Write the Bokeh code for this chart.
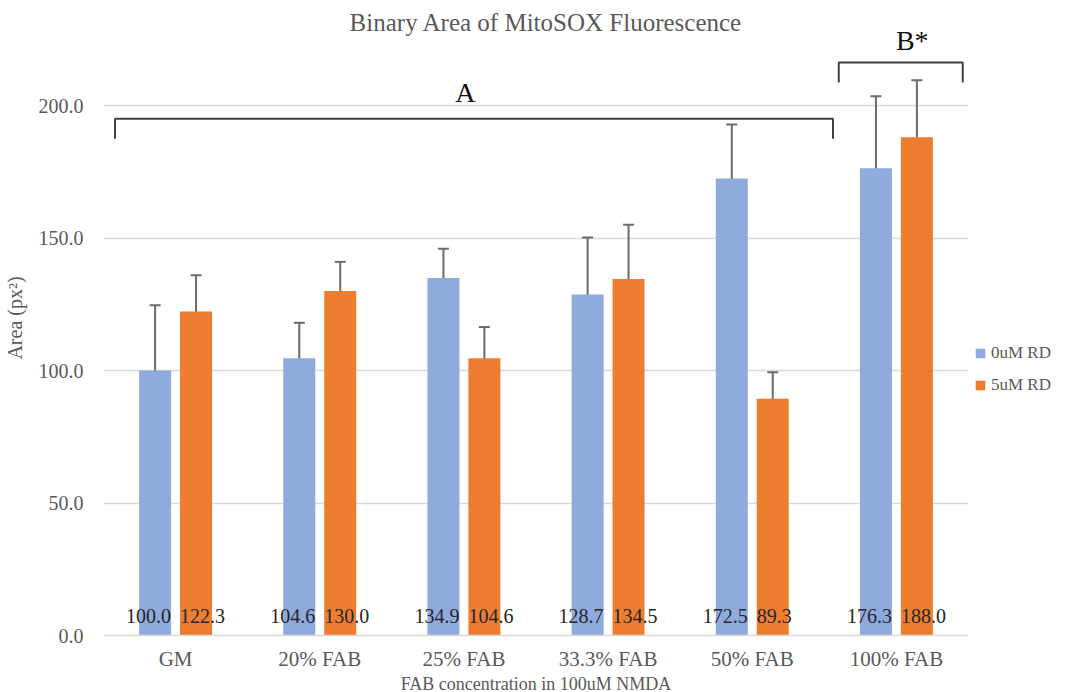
from bokeh.plotting import figure
from bokeh.models import (ColumnDataSource, FactorRange, Whisker, TeeHead, FixedTicker,
                          NumeralTickFormatter, Legend, LegendItem, Label, Range1d)
from bokeh.transform import dodge
from bokeh.core.properties import value
from bokeh.embed import file_html
from bokeh.resources import INLINE

categories = ["GM", "20% FAB", "25% FAB", "33.3% FAB", "50% FAB", "100% FAB"]
series_names = ["0uM RD", "5uM RD"]
vals_0uM = [100.0, 104.6, 134.9, 128.7, 172.5, 176.3]
vals_5uM = [122.3, 130.0, 104.6, 134.5, 89.3, 188.0]
err_0uM = [24.6, 13.4, 11.0, 21.5, 20.3, 27.2]
err_5uM = [13.6, 11.0, 11.8, 20.5, 10.0, 21.5]
y_ticks = [0, 50, 100, 150, 200]

bracket_labels = ["A", "B*"]
bracket_start = [0.08, 5.10]
bracket_end = [5.06, 5.96]
bracket_top = [195.0, 216.2]
bracket_label_x = [2.51, 5.61]
bracket_label_y = [205.0, 224.5]

FONT = "Liberation Serif"
GRAY = "#595959"
BLUE = "#8faadc"
ORANGE = "#ed7d31"

p = figure(frame_width=865, frame_height=635,
           x_range=FactorRange(factors=categories, range_padding=0),
           y_range=Range1d(0, 635 / 2.65), output_backend="svg", toolbar_location=None,
           min_border_left=103, min_border_right=100, min_border_top=0, min_border_bottom=57)
p.outline_line_color = None
p.background_fill_color = "white"

src0 = ColumnDataSource(dict(cat=categories, v=vals_0uM,
                             up=[v + e for v, e in zip(vals_0uM, err_0uM)],
                             lo=[v - e for v, e in zip(vals_0uM, err_0uM)],
                             lab=[f"{v:.1f}" for v in vals_0uM],
                             ly=[7.3] * len(categories)))
src1 = ColumnDataSource(dict(cat=categories, v=vals_5uM,
                             up=[v + e for v, e in zip(vals_5uM, err_5uM)],
                             lo=[v - e for v, e in zip(vals_5uM, err_5uM)],
                             lab=[f"{v:.1f}" for v in vals_5uM],
                             ly=[7.3] * len(categories)))

OFF = 0.142
BW = 0.222
r0 = p.vbar(x=dodge("cat", -OFF, range=p.x_range), top="v", width=BW, source=src0,
            fill_color=BLUE, line_color=None)
r1 = p.vbar(x=dodge("cat", OFF, range=p.x_range), top="v", width=BW, source=src1,
            fill_color=ORANGE, line_color=None)

for src, off in ((src0, -OFF), (src1, OFF)):
    w = Whisker(source=src, base=dodge("cat", off, range=p.x_range), upper="up", lower="lo",
                line_color="#6b6b6b", line_width=2,
                upper_head=TeeHead(size=11, line_color="#6b6b6b", line_width=2),
                lower_head=TeeHead(size=11, line_color="#6b6b6b", line_width=2))
    p.add_layout(w)

p.text(x=dodge("cat", -OFF + BW / 2, range=p.x_range), y="ly", text="lab", source=src0,
       text_align="right", text_baseline="middle", text_font=value(FONT),
       text_font_size="20px", text_color="#262626")
p.text(x=dodge("cat", OFF - BW / 2, range=p.x_range), y="ly", text="lab", source=src1,
       text_align="left", text_baseline="middle", text_font=value(FONT),
       text_font_size="20px", text_color="#262626")

# significance brackets
LEG = 7.5
xs = [[s, s, e, e] for s, e in zip(bracket_start, bracket_end)]
ys = [[t - LEG, t, t, t - LEG] for t in bracket_top]
p.multi_line(xs=xs, ys=ys, line_color="#404040", line_width=2)
p.text(x=bracket_label_x, y=bracket_label_y, text=bracket_labels, text_align="center",
       text_baseline="middle", text_font=value(FONT), text_font_size="28px",
       text_color="#111111")

title = Label(x=3.07, y=(635 - 22) / 2.65, text="Binary Area of MitoSOX Fluorescence",
              text_align="center", text_baseline="middle", text_font=FONT,
              text_font_size="25px", text_color=GRAY)
p.add_layout(title)

# axes
p.xgrid.grid_line_color = None
p.ygrid.grid_line_color = "#d9d9d9"
p.ygrid.grid_line_width = 1.5
p.yaxis.ticker = FixedTicker(ticks=y_ticks)
p.yaxis.formatter = NumeralTickFormatter(format="0.0")
p.yaxis.axis_line_color = None
p.yaxis.major_tick_line_color = None
p.yaxis.minor_tick_line_color = None
p.yaxis.major_label_text_font = FONT
p.yaxis.major_label_text_font_size = "20px"
p.yaxis.major_label_text_color = GRAY
p.yaxis.major_label_standoff = 14
p.yaxis.axis_label = "Area (px²)"
p.yaxis.axis_label_text_font = FONT
p.yaxis.axis_label_text_font_size = "20px"
p.yaxis.axis_label_text_font_style = "normal"
p.yaxis.axis_label_text_color = GRAY
p.yaxis.axis_label_standoff = 10

p.xaxis.axis_line_color = "#d9d9d9"
p.xaxis.axis_line_width = 1.5
p.xaxis.major_tick_line_color = None
p.xaxis.minor_tick_line_color = None
p.xaxis.major_label_text_font = FONT
p.xaxis.major_label_text_font_size = "21px"
p.xaxis.major_label_text_color = GRAY
p.xaxis.major_label_standoff = 5
p.xaxis.axis_label = "FAB concentration in 100uM NMDA"
p.xaxis.axis_label_text_font = FONT
p.xaxis.axis_label_text_font_size = "18px"
p.xaxis.axis_label_text_font_style = "normal"
p.xaxis.axis_label_text_color = GRAY
p.xaxis.axis_label_standoff = 0

legend = Legend(items=[LegendItem(label=series_names[0], renderers=[r0]),
                       LegendItem(label=series_names[1], renderers=[r1])],
                location=(6, 240), orientation="vertical", margin=0, padding=8,
                glyph_width=12, glyph_height=12, label_standoff=5, spacing=12,
                label_text_font=FONT, label_text_font_size="17px", label_text_color=GRAY,
                border_line_color=None, background_fill_alpha=0)
p.add_layout(legend, "right")

open("out.html", "w").write(file_html(p, INLINE))
